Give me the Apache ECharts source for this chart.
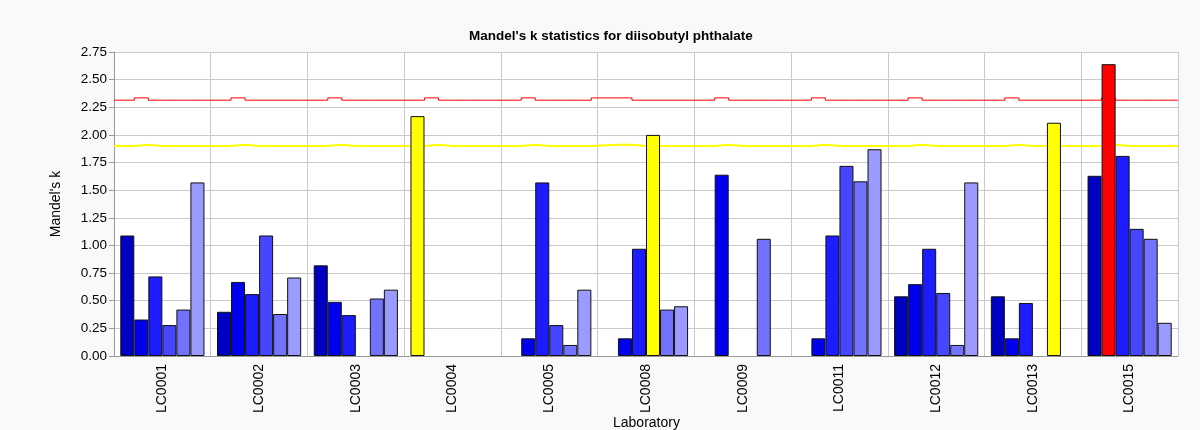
<!DOCTYPE html>
<html>
<head>
<meta charset="utf-8">
<script src="https://cdn.jsdelivr.net/npm/echarts@6/dist/echarts.min.js"></script>
<style>
  html, body { margin: 0; padding: 0; background: #f9f9fc; }
  #chart { width: 1200px; height: 430px; }
</style>
</head>
<body>
<div id="chart"></div>
<script>
// Laboratories on the category axis
const labs = ['LC0001', 'LC0002', 'LC0003', 'LC0004', 'LC0005', 'LC0008',
              'LC0009', 'LC0011', 'LC0012', 'LC0013', 'LC0015'];

// Mandel's k per level, one value per laboratory (null = no result)
const level1 = [1.09, 0.40, 0.82, 2.17, null, null, null, null, 0.54, 0.54, 1.63];
const level2 = [0.33, 0.67, 0.49, null, 0.16, 0.16, 1.64, 0.16, 0.65, 0.16, 2.64];
const level3 = [0.72, 0.56, 0.37, null, 1.57, 0.97, null, 1.09, 0.97, 0.48, 1.81];
const level4 = [0.28, 1.09, null, null, 0.28, 2.00, null, 1.72, 0.57, null, 1.15];
const level5 = [0.42, 0.38, 0.52, null, 0.10, 0.42, 1.06, 1.58, 0.10, 2.11, 1.06];
const level6 = [1.57, 0.71, 0.60, null, 0.60, 0.45, null, 1.87, 1.57, null, 0.30];
const levels = [level1, level2, level3, level4, level5, level6];
const levelNames = ['Level 1', 'Level 2', 'Level 3', 'Level 4', 'Level 5', 'Level 6'];
const levelColors = ['#0000c0', '#0000ee', '#1c1cff', '#4646ff', '#7272ff', '#9b9bff'];

// Critical k values: index 0 = 1 % (red), index 1 = 5 % (yellow)
const kCritNormal = [2.314, 1.900];
const kCritRaised = [2.335, 1.912];
// [laboratory index, level index] cells that use the raised critical value
const raisedCells = [[0, 1], [1, 1], [2, 1], [3, 1], [4, 1], [5, 0], [5, 1],
                     [6, 1], [7, 1], [8, 1], [9, 1], [10, 1]];

const yTicks = { min: 0, max: 2.75, step: 0.25 };

const catGap = 0.13;                        // fraction of a category left empty
const slotW = (1 - catGap) / levels.length; // width of one bar, in category units

function isRaised(lab, lvl) {
  return raisedCells.some(c => c[0] === lab && c[1] === lvl);
}
function critAt(lab, lvl, which) {
  return isRaised(lab, lvl) ? kCritRaised[which] : kCritNormal[which];
}

// Step line across all bar slots; each slot's value runs from the previous slot's end to its own end
function critLine(which) {
  const pts = [];
  let x0 = 0;
  let last = null;
  for (let i = 0; i < labs.length; i++) {
    for (let j = 0; j < levels.length; j++) {
      const v = critAt(i, j, which);
      const x1 = i + catGap / 2 + (j + 1) * slotW;
      pts.push([x0, v], [x1, v]);
      x0 = x1;
      last = v;
    }
  }
  pts.push([x0, last], [labs.length, last]);
  return pts;
}

const FONT = "'Liberation Sans', Arial, sans-serif";

const barSeries = levels.map((data, lvl) => ({
  name: levelNames[lvl],
  type: 'bar',
  xAxisIndex: 0,
  yAxisIndex: 0,
  data: data,
  barGap: '0%',
  barCategoryGap: (catGap * 100) + '%',
  z: 3,
  itemStyle: {
    borderColor: '#111',
    borderWidth: 1,
    color: function (p) {
      const v = p.value;
      if (v > critAt(p.dataIndex, lvl, 0)) return '#ff0000';
      if (v > critAt(p.dataIndex, lvl, 1)) return '#ffff00';
      return levelColors[lvl];
    }
  }
}));

const lineSeries = [
  { name: '1 %', color: '#ff0000', width: 1, which: 0 },
  { name: '5 %', color: '#ffff00', width: 2, which: 1 }
].map(s => ({
  name: s.name,
  type: 'line',
  xAxisIndex: 1,
  yAxisIndex: 0,
  data: critLine(s.which),
  symbol: 'none',
  z: 2,
  lineStyle: { color: s.color, width: s.width },
  silent: true
}));

const gridBox = { left: 114, right: 22, top: 52, bottom: 74 };
const CHART_W = 1200;

const chart = echarts.init(document.getElementById('chart'), null, { renderer: 'canvas' });

function textWidth(str, font, fallback) {
  return echarts.format.getTextRect ? echarts.format.getTextRect(str, font).width : fallback;
}

// Chart title, centred slightly right of the canvas middle
const titleText = "Mandel's k statistics for diisobutyl phthalate";
const titleFont = "bold 13.5px 'Liberation Sans', Arial, sans-serif";
const titleW = textWidth(titleText, titleFont, 284);

// x-axis title, centred under the plot area
const xTitleFont = "14px 'Liberation Sans', Arial, sans-serif";
const xTitle = 'Laboratory';
const xTitleW = textWidth(xTitle, xTitleFont, 67);
const plotCenterX = gridBox.left + (CHART_W - gridBox.left - gridBox.right) / 2;

chart.setOption({
  animation: false,
  backgroundColor: '#f9f9fc',
  textStyle: { fontFamily: FONT },
  title: {
    text: titleText,
    left: Math.round(611 - titleW / 2),
    top: 29,
    padding: 0,
    textStyle: { fontFamily: FONT, fontSize: 13.5, fontWeight: 'bold', color: '#000' }
  },
  grid: {
    left: gridBox.left, right: gridBox.right, top: gridBox.top, bottom: gridBox.bottom,
    outerBoundsMode: 'none',
    containLabel: false,
    show: true, backgroundColor: '#ffffff', borderWidth: 0
  },
  graphic: [{
    type: 'text',
    left: Math.round(plotCenterX - xTitleW / 2),
    top: 416,
    style: { text: xTitle, font: xTitleFont, fill: '#000' }
  }],
  xAxis: [
    {
      type: 'category',
      data: labs,
      boundaryGap: true,
      axisLine: { lineStyle: { color: '#999' } },
      axisTick: { alignWithLabel: true, length: 4, lineStyle: { color: '#999' } },
      axisLabel: { interval: 0, rotate: 90, margin: 8, fontFamily: FONT, fontSize: 14, color: '#000' },
      splitLine: { show: true, interval: 0, lineStyle: { color: '#cacaca' } }
    },
    { type: 'value', min: 0, max: labs.length, show: false }
  ],
  yAxis: {
    type: 'value',
    min: yTicks.min,
    max: yTicks.max,
    interval: yTicks.step,
    name: "Mandel's k",
    nameLocation: 'middle',
    nameGap: 51,
    nameTextStyle: { fontFamily: FONT, fontSize: 14, color: '#000' },
    axisLine: { show: true, lineStyle: { color: '#999' } },
    axisTick: { show: true, length: 5, lineStyle: { color: '#999' } },
    axisLabel: { margin: 7, fontFamily: FONT, fontSize: 13.5, color: '#000', formatter: v => v.toFixed(2) },
    splitLine: { show: true, lineStyle: { color: '#cacaca' } }
  },
  series: lineSeries.concat(barSeries)
});
</script>
</body>
</html>
